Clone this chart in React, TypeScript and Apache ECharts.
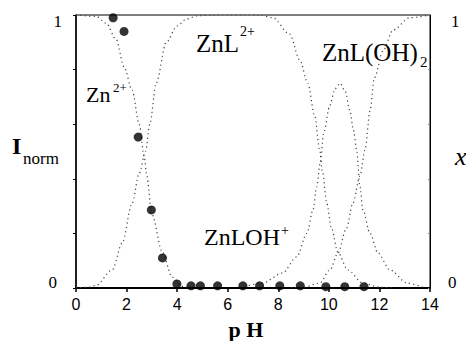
import React, { useEffect, useRef } from "react";
import * as echarts from "echarts";

// Fraction curves: [pH, value]
const zn2Curve: number[][] = [
  [0, 1], [0.8, 0.995], [1.19, 0.97], [1.59, 0.91], [1.9, 0.81], [2.22, 0.725],
  [2.5, 0.6], [2.7, 0.48], [2.8, 0.41], [3.0, 0.27], [3.42, 0.13], [3.8, 0.04],
  [4.2, 0.006], [4.6, 0],
];
const znLCurve: number[][] = [
  [0, 0], [0.5, 0.003], [0.8, 0.01], [1.43, 0.066], [1.83, 0.165], [2.22, 0.31],
  [2.5, 0.42], [2.75, 0.5], [2.92, 0.6], [3.17, 0.75], [3.57, 0.9], [4.0, 0.96],
  [4.36, 0.985], [4.8, 0.997], [5.5, 1], [7.3, 1], [7.78, 0.99], [8.45, 0.93],
  [8.85, 0.835], [9.17, 0.75], [9.44, 0.63], [9.64, 0.505], [9.74, 0.43],
  [9.92, 0.31], [10.1, 0.22], [10.36, 0.13], [10.75, 0.066], [11.35, 0.018],
  [12.0, 0.003], [12.5, 0],
];
const znLOHCurve: number[][] = [
  [6.5, 0], [7.38, 0.018], [8.17, 0.055], [8.73, 0.114], [9.13, 0.2], [9.37, 0.285],
  [9.52, 0.37], [9.66, 0.46], [9.8, 0.57], [10.04, 0.67], [10.25, 0.73], [10.44, 0.75],
  [10.65, 0.72], [10.83, 0.65], [10.97, 0.58], [11.1, 0.505], [11.23, 0.37],
  [11.35, 0.285], [11.63, 0.2], [11.94, 0.128], [12.42, 0.066], [13.1, 0.018], [13.8, 0],
];
const znLOH2Curve: number[][] = [
  [8.5, 0], [9.0, 0.003], [9.64, 0.018], [10.04, 0.066], [10.36, 0.128], [10.7, 0.22],
  [10.95, 0.31], [11.23, 0.41], [11.43, 0.505], [11.63, 0.65], [11.8, 0.77],
  [12.15, 0.87], [12.54, 0.945], [13.2, 0.99], [14, 1],
];
// Measured normalized intensity
const measured: number[][] = [
  [1.47, 0.99], [1.9, 0.94], [2.46, 0.553], [2.98, 0.286], [3.42, 0.11], [3.99, 0.015],
  [4.55, 0.008], [4.92, 0.008], [5.6, 0.008], [6.6, 0.008], [7.26, 0.008], [8.06, 0.008],
  [8.87, 0.008], [9.88, 0.005], [10.63, 0.005], [11.39, 0.005],
];

const SERIF = "Times New Roman";
const SANS = "Liberation Sans";

const dotted = {
  type: [1.2, 3.2] as number[],
  width: 1.2,
  color: "#444",
};

function txt(text: string, x: number, y: number, size: number, extra: any = {}) {
  const parts: string[] = [];
  if (extra.fontStyle) parts.push(extra.fontStyle);
  if (extra.fontWeight) parts.push(extra.fontWeight);
  parts.push(`${size}px ${SERIF}`);
  return {
    type: "text",
    x,
    y,
    silent: true,
    style: {
      text,
      fill: "#000",
      font: parts.join(" "),
      align: extra.align || "left",
      verticalAlign: "middle",
    },
  };
}

export default function App() {
  const ref = useRef<HTMLDivElement>(null);
  useEffect(() => {
    if (!ref.current) return;
    const chart = echarts.init(ref.current, null, { renderer: "svg" });
    const lineSeries = (name: string, data: number[][]) => ({
      name,
      type: "line",
      data,
      showSymbol: false,
      smooth: 0.3,
      smoothMonotone: "x",
      lineStyle: dotted,
      silent: true,
      z: 2,
    });
    const yLabel = (left: boolean) => ({
      show: true,
      margin: left ? 14 : 18,
      fontFamily: SERIF,
      fontSize: 17,
      color: "#000",
      formatter: (v: number) => (v === 1 ? "{t|1}" : v === 0 ? "{b|0}" : ""),
      rich: {
        t: {
          fontFamily: SERIF,
          fontSize: 17,
          color: "#000",
          padding: left ? [12, 0, 0, 0] : [12, 0, 0, 3],
        },
        b: {
          fontFamily: SERIF,
          fontSize: 17,
          color: "#000",
          padding: left ? [0, 5, 12, 0] : [0, 0, 12, 0],
        },
      },
    });
    chart.setOption({
      animation: false,
      backgroundColor: "#fff",
      textStyle: { fontFamily: SERIF },
      grid: {
        left: 76,
        right: 36,
        top: 15,
        bottom: 53,
        show: true,
        borderColor: "#000",
        borderWidth: 1,
      },
      xAxis: {
        type: "value",
        min: 0,
        max: 14,
        interval: 2,
        axisLine: { lineStyle: { color: "#000", width: 2 } },
        axisTick: { length: 4, lineStyle: { color: "#000", width: 1.5 } },
        axisLabel: { fontFamily: SANS, fontSize: 16, color: "#000", margin: 8 },
        splitLine: { show: false },
      },
      yAxis: [
        {
          type: "value",
          min: 0,
          max: 1,
          interval: 0.2,
          axisLine: { show: true, lineStyle: { color: "#000", width: 1.5 } },
          axisTick: { show: true, length: 3, lineStyle: { color: "#000", width: 1 } },
          axisLabel: yLabel(true),
          splitLine: { show: false },
        },
        {
          type: "value",
          position: "right",
          min: 0,
          max: 1,
          interval: 0.2,
          axisLine: { show: true, lineStyle: { color: "#000", width: 1 } },
          axisTick: { show: true, inside: true, length: 2, lineStyle: { color: "#888", width: 1 } },
          axisLabel: yLabel(false),
          splitLine: { show: false },
        },
      ],
      series: [
        lineSeries("Zn2+", zn2Curve),
        lineSeries("ZnL2+", znLCurve),
        lineSeries("ZnLOH+", znLOHCurve),
        lineSeries("ZnL(OH)2", znLOH2Curve),
        {
          name: "Inorm",
          type: "scatter",
          data: measured,
          symbol: "circle",
          symbolSize: 9,
          itemStyle: { color: "#000" },
          silent: true,
          z: 5,
        },
      ],
      graphic: [
        txt("Zn", 86, 94, 22),
        txt("2+", 113, 87, 13),
        txt("ZnL", 196, 43, 25),
        txt("2+", 240, 31, 14),
        txt("ZnL(OH)", 322, 52, 25),
        txt("2", 420, 62, 15),
        txt("ZnLOH", 204, 237, 24),
        txt("+", 281, 230, 14),
        txt("I", 12, 146, 24, { fontWeight: "bold" }),
        txt("norm", 23, 158, 17),
        txt("x", 455, 156, 26, { fontStyle: "italic" }),
        txt("p H", 246, 329, 22, { fontWeight: "bold", align: "center" }),
      ],
    });
    return () => chart.dispose();
  }, []);
  return <div ref={ref} style={{ width: 466, height: 341, position: "absolute", left: 0, top: 0 }} />;
}
